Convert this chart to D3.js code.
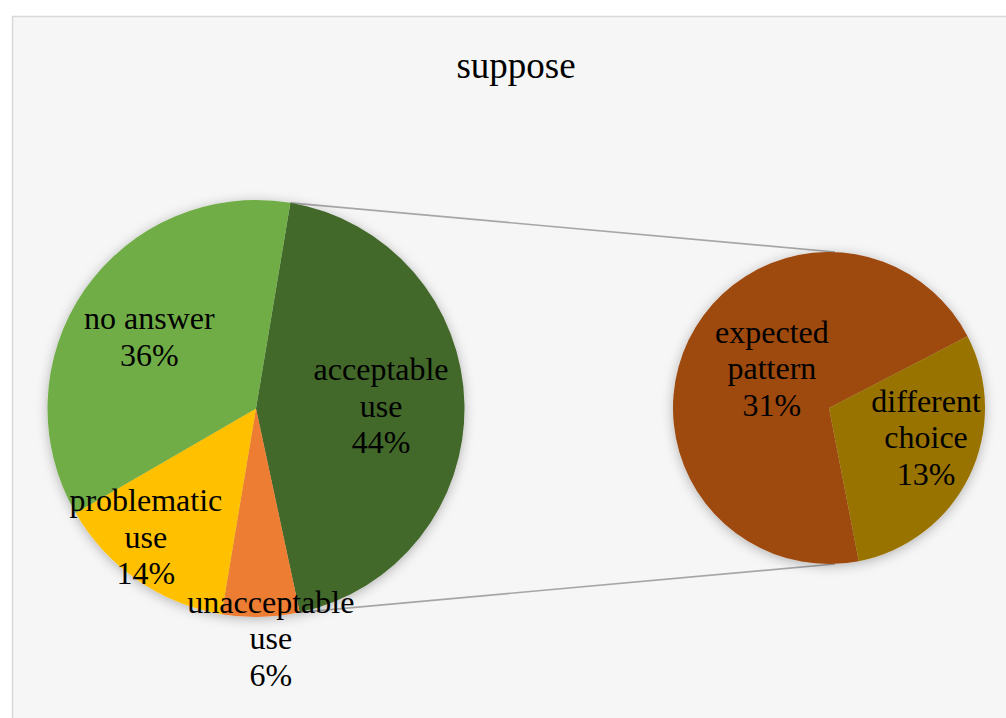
<!DOCTYPE html>
<html><head><meta charset="utf-8">
<script src="https://cdn.jsdelivr.net/npm/d3@7"></script>
<style>html,body{margin:0;padding:0;background:#fff;}</style>
</head><body>
<svg id="chart" width="1006" height="718"></svg>
<script>
// ---- data ----
const title = "suppose";
const mainCategories = ["acceptable use", "unacceptable use", "problematic use", "no answer"];
const mainLabelLines = [["acceptable","use"],["unacceptable","use"],["problematic","use"],["no answer"]];
const mainValues = [44, 6, 14, 36];           // "acceptable use" is the split-out slice
const mainColors = ["#43682B", "#ED7D31", "#FFC000", "#70AD47"];
const subCategories = ["expected pattern", "different choice"];
const subLabelLines = [["expected","pattern"],["different","choice"]];
const subValues = [31, 13];
const subColors = ["#9E480E", "#997300"];

// ---- layout ----
const W = 1006, H = 718;
const svg = d3.select("#chart");
const defs = svg.append("defs");
const f = defs.append("filter").attr("id","sh").attr("x","-20%").attr("y","-20%").attr("width","140%").attr("height","140%");
f.append("feDropShadow").attr("dx",0).attr("dy",2).attr("stdDeviation",6).attr("flood-color","#000").attr("flood-opacity",0.28);

svg.append("rect").attr("x",0).attr("y",0).attr("width",W).attr("height",H).attr("fill","#fff");
svg.append("rect").attr("x",12.5).attr("y",16.5).attr("width",1010).attr("height",720)
  .attr("fill","#f6f6f6").attr("stroke","#d9d9d9").attr("stroke-width",1.5);

svg.append("text").attr("x",516).attr("y",78).attr("text-anchor","middle")
  .attr("font-family","'Liberation Serif','Times New Roman',serif").attr("font-size",37)
  .attr("fill","#000").text(title);

const c1 = {x:256, y:408.5, r:208.5};
const c2 = {x:829, y:408, r:156};
const deg = Math.PI/180;

const mainPie = d3.pie().sort(null).value(d=>d)
  .startAngle(9.5*deg).endAngle(369.5*deg);
const subPie = d3.pie().sort(null).value(d=>d)
  .startAngle(169*deg).endAngle(529*deg);

const mainArcs = mainPie(mainValues);
const subArcs = subPie(subValues);

// connector lines
function pt(cx, cy, r, a){ return [cx + r*Math.sin(a), cy - r*Math.cos(a)]; }
const otherArc = mainArcs[0];
const p1 = pt(c1.x, c1.y, c1.r, otherArc.startAngle);
const p2 = pt(c1.x, c1.y, c1.r, otherArc.endAngle);
svg.append("line").attr("x1",p1[0]).attr("y1",p1[1]).attr("x2",c2.x+6).attr("y2",c2.y-c2.r)
  .attr("stroke","#a6a6a6").attr("stroke-width",1.6);
svg.append("line").attr("x1",p2[0]).attr("y1",p2[1]).attr("x2",c2.x+6).attr("y2",c2.y+c2.r)
  .attr("stroke","#a6a6a6").attr("stroke-width",1.6);

const arc1 = d3.arc().innerRadius(0).outerRadius(c1.r);
const arc2 = d3.arc().innerRadius(0).outerRadius(c2.r);

const g1 = svg.append("g").attr("transform",`translate(${c1.x},${c1.y})`).attr("filter","url(#sh)");
g1.selectAll("path").data(mainArcs).join("path").attr("d",arc1).attr("fill",(d,i)=>mainColors[i]);
const g2 = svg.append("g").attr("transform",`translate(${c2.x},${c2.y})`).attr("filter","url(#sh)");
g2.selectAll("path").data(subArcs).join("path").attr("d",arc2).attr("fill",(d,i)=>subColors[i]);

// labels
const total = d3.sum(mainValues);
const fmt = v => Math.round(v/total*100) + "%";
// label placement: [angle nudge (deg), radius factor]
const mainLabelPos = [[0,0.6],[-2.4,1.105],[6,0.81],[-0.7,0.617]];
const subLabelPos = [[9,0.446],[-9,0.65]];
const lineH = 36.5;

function drawLabel(cx, cy, r, a, pos, nameLines, pct){
  const ang = a + pos[0]*deg;
  const [x,y] = pt(cx, cy, r*pos[1], ang);
  const lines = nameLines.concat([pct]);
  const t = svg.append("text").attr("text-anchor","middle")
    .attr("font-family","'Liberation Serif','Times New Roman',serif").attr("font-size",32).attr("fill","#000");
  const n = lines.length;
  lines.forEach((ln,i)=>{
    t.append("tspan").attr("x",x).attr("y", y + (i-(n-1)/2)*lineH + 11).text(ln);
  });
}
mainArcs.forEach((d,i)=>{
  const mid = (d.startAngle+d.endAngle)/2;
  drawLabel(c1.x,c1.y,c1.r,mid,mainLabelPos[i],mainLabelLines[i],fmt(mainValues[i]));
});
subArcs.forEach((d,i)=>{
  const mid = (d.startAngle+d.endAngle)/2;
  drawLabel(c2.x,c2.y,c2.r,mid,subLabelPos[i],subLabelLines[i],fmt(subValues[i]));
});
</script>
</body></html>
